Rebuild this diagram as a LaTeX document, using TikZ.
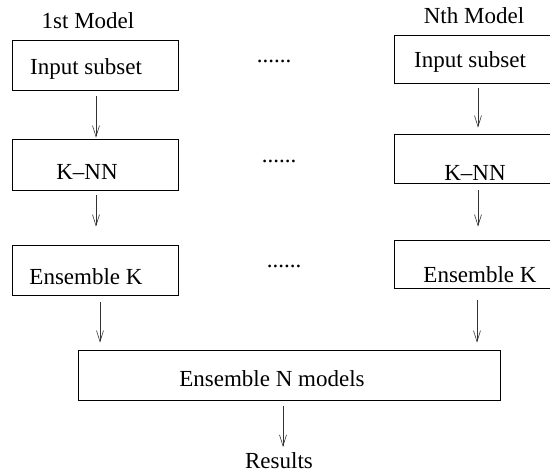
\documentclass[tikz,border=0pt]{standalone}
\usepackage{fontspec}
\setmainfont{Liberation Serif}
\usetikzlibrary{arrows.meta,calc}

\tikzset{
  box/.style={draw, line width=0.8pt, minimum width=166pt, inner sep=0pt},
  txt/.style={anchor=base, inner sep=0pt, font=\fontsize{23pt}{27pt}\selectfont},
  arr/.style={line width=0.6pt, draw=black!80, -{Straight Barb[length=11pt,width=7pt]}}
}

\begin{document}
\begin{tikzpicture}[x=1pt, y=-1pt]
      \useasboundingbox (0,0) rectangle (550,472);

      % Column headings
      \node [txt] (headA) at (88,28) {1st Model};
      \node [txt] (headB) at (474,23) {Nth Model};

      % First model boxes
      \node [box, minimum height=50pt] (inA) at (95,65) {};
      \node [box, minimum height=51pt] (knnA) at (95,164.5) {};
      \node [box, minimum height=50pt] (ensA) at (95,270) {};

      % Last model boxes (running off the right edge)
      \node [box, minimum height=48pt] (inB) at (477,59) {};
      \node [box, minimum height=49pt] (knnB) at (477,158.5) {};
      \node [box, minimum height=48pt] (ensB) at (477,264) {};

      % Final combination box
      \node [box, minimum width=422pt, minimum height=50pt] (all) at (289,375) {};

      % Box texts
      \node [txt] (inAtxt) at (86,74) {Input subset};
      \node [txt] (knnAtxt) at (87,179) {K--NN};
      \node [txt] (ensAtxt) at (86,284) {Ensemble K};
      \node [txt] (inBtxt) at (470,67) {Input subset};
      \node [txt] (knnBtxt) at (475,180) {K--NN};
      \node [txt] (ensBtxt) at (480,282) {Ensemble K};
      \node [txt] (alltxt) at (272,386) {Ensemble N models};
      \node [txt] (res) at (279,468) {Results};

      % Dots between the columns
      \node [txt] (dotsA) at (274,62) {......};
      \node [txt] (dotsB) at (279,162) {......};
      \node [txt] (dotsC) at (284,267) {......};

      % Arrows, first model
      \draw [arr, shorten <=6pt, shorten >=1pt] ([xshift=1pt]inA.south) -- ([xshift=1pt]knnA.north);
      \draw [arr, shorten <=5pt, shorten >=18pt] ([xshift=1pt]knnA.south) -- ([xshift=1pt]ensA.north);
      \draw [arr, shorten <=7pt, shorten >=7pt] ([xshift=5pt]ensA.south) -- ([xshift=5pt]ensA.south |- all.north);

      % Arrows, last model
      \draw [arr, shorten <=5pt, shorten >=6pt] ([xshift=1pt]inB.south) -- ([xshift=1pt]knnB.north);
      \draw [arr, shorten <=7pt, shorten >=13pt] ([xshift=1pt]knnB.south) -- ([xshift=1pt]ensB.north);
      \draw [arr, shorten <=12pt, shorten >=7pt] (ensB.south) -- (ensB.south |- all.north);

      % Output arrow
      \draw [arr, shorten <=6pt, shorten >=5pt] ([xshift=-6pt]all.south) -- ([xshift=-6pt]all.south |- res.north);
\end{tikzpicture}
\end{document}
